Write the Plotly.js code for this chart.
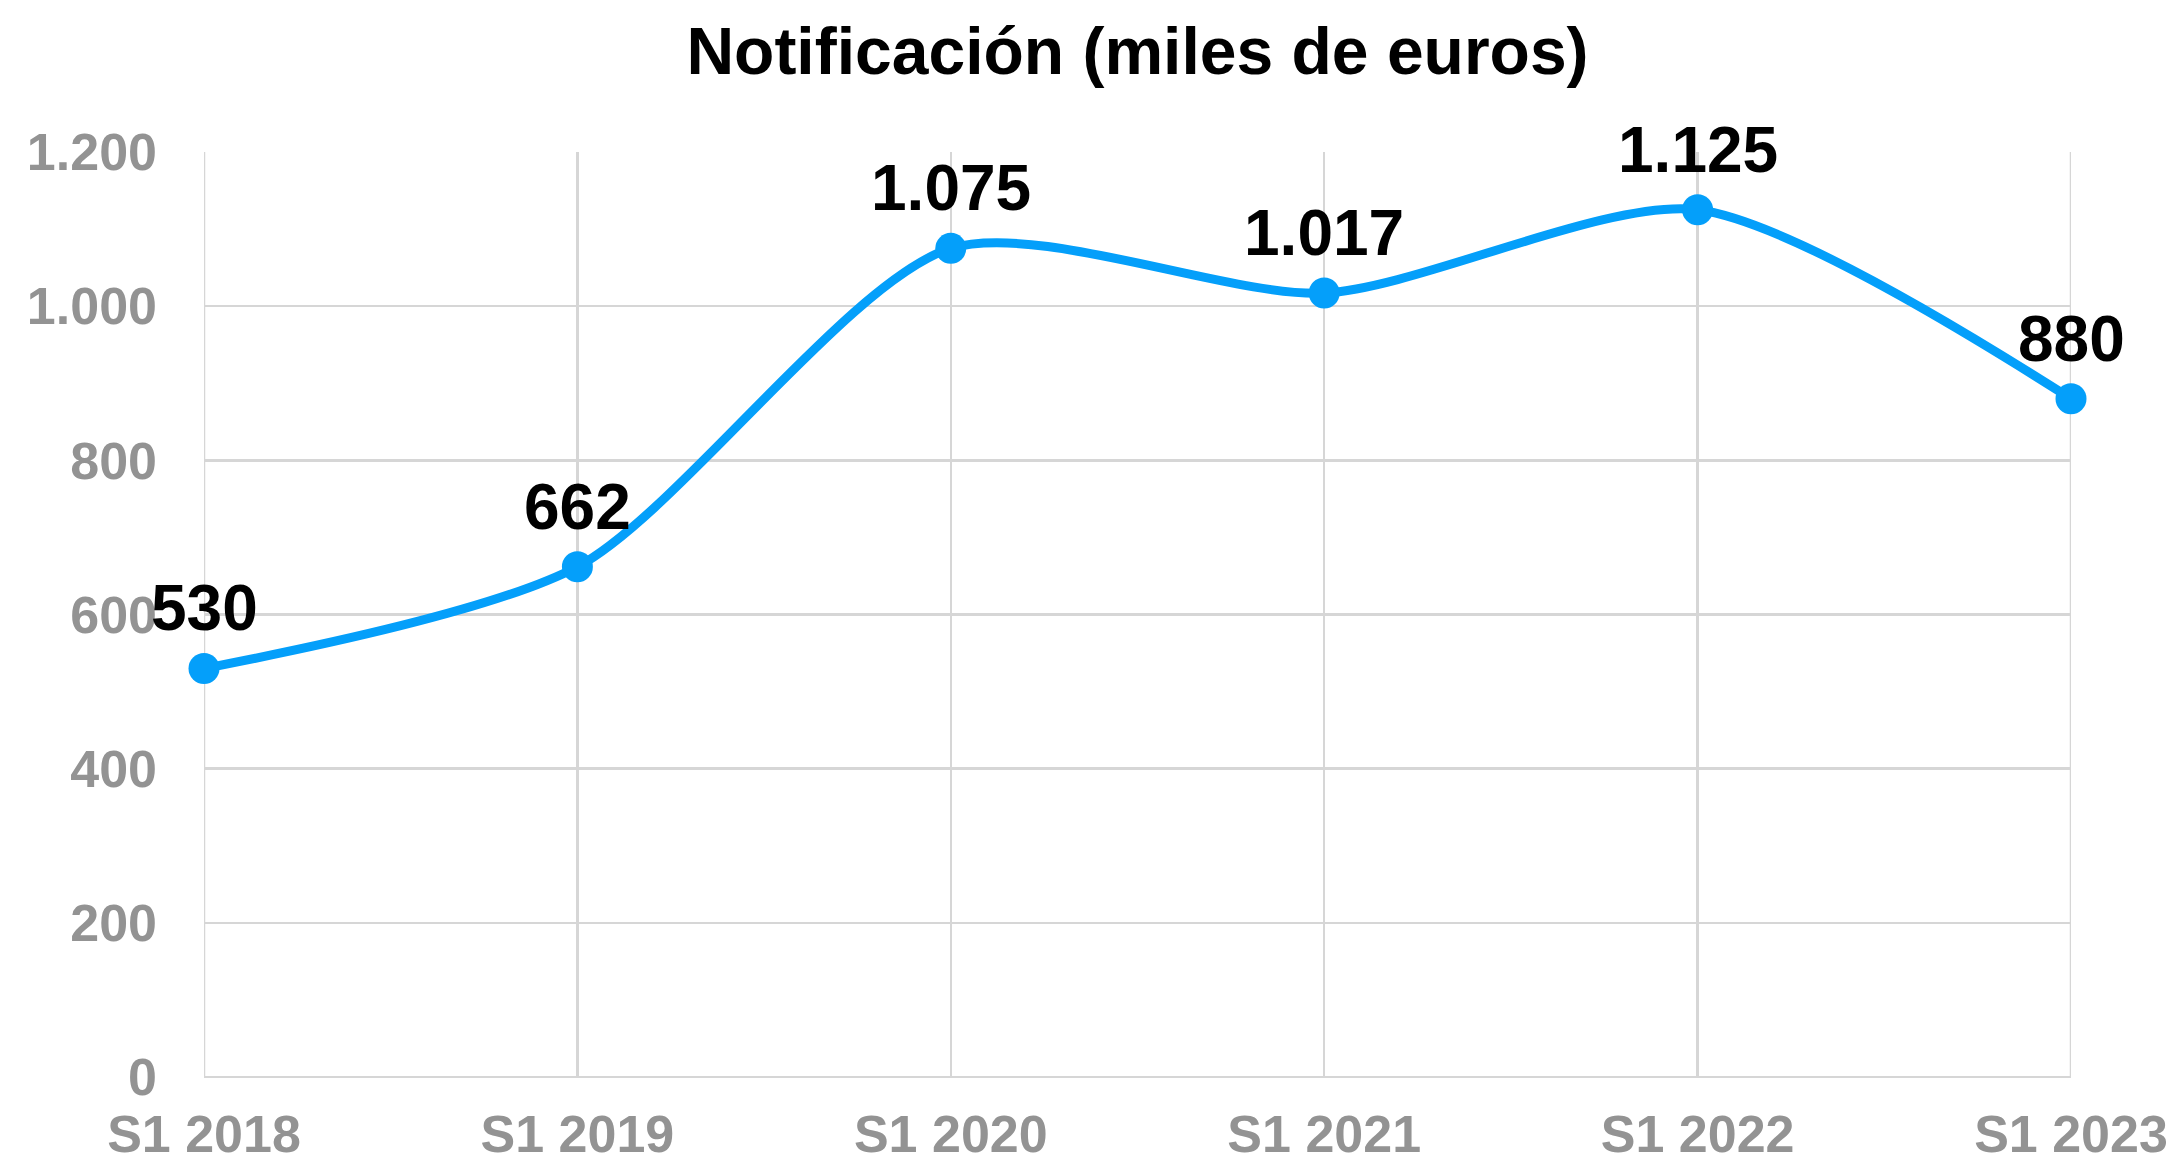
<!DOCTYPE html>
<html>
<head>
<meta charset="utf-8">
<script src="https://cdn.plot.ly/plotly-3.0.1.min.js"></script>
<style>html,body{margin:0;padding:0;background:#fff;}#chart{width:2177px;height:1165px;}</style>
</head>
<body>
<div id="chart"></div>
<script>
const categories = ["S1 2018", "S1 2019", "S1 2020", "S1 2021", "S1 2022", "S1 2023"];
const values = [530, 662, 1075, 1017, 1125, 880];
const valueLabels = ["530", "662", "1.075", "1.017", "1.125", "880"];
const yTickVals = [0, 200, 400, 600, 800, 1000, 1200];
const yTickText = ["0", "200", "400", "600", "800", "1.000", "1.200"];

const FONT = "Liberation Sans, Arial, Helvetica, sans-serif";
const BLUE = "#049ffa";
const GRID = "#d6d6d6";
const xIdx = categories.map((c, i) => i);
const xFirst = xIdx[0], xLast = xIdx[xIdx.length - 1];

const trace = {
  x: xIdx,
  y: values,
  type: "scatter",
  mode: "lines+markers",
  line: {color: BLUE, width: 9, shape: "spline", smoothing: 0.75},
  marker: {color: BLUE, size: 31},
  cliponaxis: false,
  hoverinfo: "none"
};

const annotations = values.map((v, i) => ({
  x: xIdx[i], y: v, xref: "x", yref: "y",
  text: valueLabels[i], showarrow: false,
  yshift: 60,
  font: {family: FONT, size: 64, color: "#000", weight: "bold"}
}));

const edgeLines = [xFirst, xLast].map(xv => ({
  type: "line", xref: "x", yref: "paper",
  x0: xv, x1: xv, y0: 0, y1: 1,
  line: {color: GRID, width: 2.5}, layer: "below"
}));

const layout = {
  width: 2177, height: 1165,
  margin: {l: 204, r: 106, t: 152, b: 88},
  paper_bgcolor: "#fff", plot_bgcolor: "#fff",
  showlegend: false,
  title: {
    text: "Notificación (miles de euros)",
    font: {family: FONT, size: 66, color: "#000", weight: "bold"},
    x: 0.5, xanchor: "center", xref: "paper",
    y: 1 - 51/1165, yanchor: "middle", yref: "container"
  },
  xaxis: {
    range: [xFirst, xLast],
    tickvals: xIdx, ticktext: categories,
    showgrid: true, gridcolor: GRID, gridwidth: 2.5,
    zeroline: false, showline: false,
    ticks: "", ticklabelstandoff: 22,
    tickfont: {family: FONT, size: 52, color: "#939393", weight: "bold"},
    fixedrange: true
  },
  yaxis: {
    range: [0, 1200],
    tickvals: yTickVals, ticktext: yTickText,
    showgrid: true, gridcolor: GRID, gridwidth: 2.5,
    zeroline: true, zerolinecolor: GRID, zerolinewidth: 2.5,
    showline: false, ticks: "", ticklabelstandoff: 46,
    tickfont: {family: FONT, size: 52, color: "#939393", weight: "bold"},
    fixedrange: true
  },
  shapes: edgeLines,
  annotations: annotations
};

Plotly.newPlot("chart", [trace], layout, {staticPlot: true, displayModeBar: false});
</script>
</body>
</html>
